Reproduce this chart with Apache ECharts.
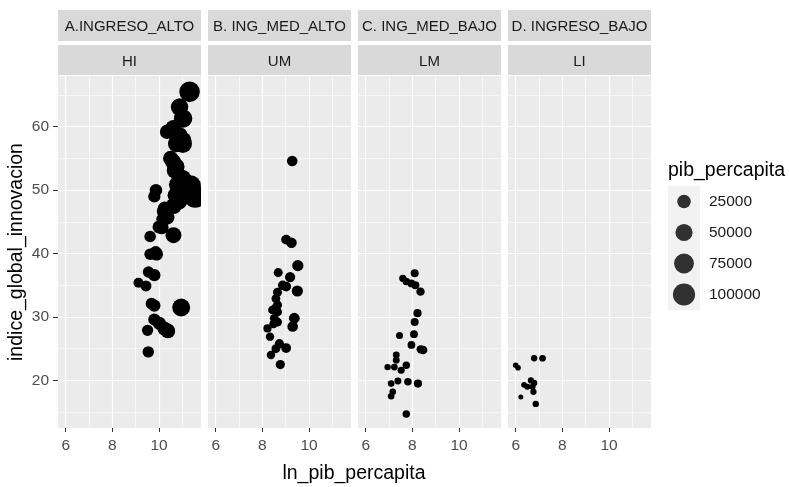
<!DOCTYPE html>
<html><head><meta charset="utf-8">
<script src="https://cdn.jsdelivr.net/npm/echarts@6/dist/echarts.min.js"></script>
<style>html,body{margin:0;padding:0;background:#fff}#c{width:789px;height:487px}</style>
</head><body><div id="c"></div>
<script>
// ---- data ----
const groupLabels = ['A.INGRESO_ALTO', 'B. ING_MED_ALTO', 'C. ING_MED_BAJO', 'D. INGRESO_BAJO'];
const incomeCodes = ['HI', 'UM', 'LM', 'LI'];
const xMajorTicks = [6, 8, 10];
const xMinorTicks = [7, 9, 11];
const yMajorTicks = [20, 30, 40, 50, 60];
const yMinorTicks = [15, 25, 35, 45, 55, 65];
const sizeBreaks = [25000, 50000, 75000, 100000];

const hiLnPib = [11.31,10.88,11.03,10.62,10.35,10.86,10.80,11.00,11.02,10.74,10.50,10.60,10.74,10.70,10.68,10.99,10.79,11.35,11.12,9.87,9.80,10.72,11.55,10.85,10.63,10.25,10.20,10.35,10.18,10.00,10.12,10.62,9.62,9.86,9.78,9.90,9.62,9.55,9.80,9.12,9.44,9.68,9.80,10.95,9.80,10.02,10.23,10.38,9.51,9.54];
const hiIndex = [65.5,63.1,61.3,59.8,59.2,58.6,58.4,57.8,57.3,57.3,55.0,54.5,53.7,53.4,53.1,51.8,50.9,50.7,50.4,50.0,49.0,49.2,49.0,48.3,47.5,47.1,46.7,45.7,45.4,44.2,44.1,42.9,42.7,40.2,40.0,39.9,39.9,37.1,36.6,35.4,34.9,32.1,31.8,31.5,29.6,29.0,28.2,27.8,27.9,24.5];
const hiPib = [82000,53000,62000,41000,31000,52000,49000,60000,61000,46000,36000,40000,46000,44000,43000,59000,48500,85000,67000,19500,18000,45000,104000,51500,41000,28000,27000,31000,26500,22000,25000,41000,15000,19000,17700,20000,15000,14000,18000,9100,12600,16000,18000,57000,18000,22500,27700,32000,13500,14000];

const umLnPib = [9.28,9.02,9.25,9.52,8.68,9.19,8.87,9.02,9.50,8.65,8.58,8.65,8.43,8.65,8.51,9.37,9.30,8.65,8.22,8.33,8.73,9.02,8.58,8.37,8.77,8.55,8.48];
const umIndex = [54.6,42.2,41.7,38.1,37.0,36.3,35.0,34.8,34.1,33.9,32.9,31.9,31.1,30.8,29.8,29.8,28.5,29.2,28.2,26.9,25.8,25.1,25.0,24.0,22.5,31.4,28.9];
const umPib = [10700,8300,10400,13600,5900,9800,7100,8300,13400,5700,5300,5700,4600,5700,5000,11700,10900,5700,3700,4200,6200,8300,5300,4300,6400,5200,4800];

const lmLnPib = [8.10,7.59,7.74,7.96,8.13,8.35,8.22,8.10,7.45,8.07,7.96,8.36,8.46,7.31,6.94,7.23,7.74,7.31,7.52,7.09,7.38,7.81,8.24,7.16,7.09,7.74];
const lmIndex = [36.9,36.1,35.6,35.3,35.0,34.0,30.6,29.2,27.1,27.3,25.6,24.9,24.8,24.0,22.1,22.1,22.4,23.2,21.6,19.5,19.9,19.8,19.5,18.2,17.5,14.7];
const lmPib = [3300,2000,2300,2900,3400,4200,3700,3300,1700,3200,2900,4300,4700,1500,1030,1400,2300,1500,1850,1200,1600,2500,3800,1300,1200,2300];

const liLnPib = [6.00,6.10,6.79,7.15,6.65,6.79,6.36,6.50,6.72,6.76,6.22,6.86];
const liIndex = [22.4,22.0,23.5,23.5,20.0,19.6,19.3,19.0,19.0,18.2,17.4,16.3];
const liPib = [400,450,890,1270,770,890,580,670,830,860,300,950];

// ---- layout / style ----
const FONT = '"Liberation Sans", Arial, sans-serif';
const panels = [
  {x: hiLnPib, y: hiIndex, p: hiPib},
  {x: umLnPib, y: umIndex, p: umPib},
  {x: lmLnPib, y: lmIndex, p: lmPib},
  {x: liLnPib, y: liIndex, p: liPib}
];
const LEFTS = [58, 208, 358, 508], W = 143, TOP = 76, BOTTOM_PX = 428;
const XMIN = 5.67, XMAX = 11.8, YMIN = 12.5, YMAX = 68;
const SIZE_DOMAIN = [300, 116000];
function sizeOf(v) {
  const r = Math.max(0, (v - SIZE_DOMAIN[0]) / (SIZE_DOMAIN[1] - SIZE_DOMAIN[0]));
  return 5 + 18.5 * Math.sqrt(r);
}

const grids = [], xAxes = [], yAxes = [], series = [], graphics = [];
panels.forEach((pn, i) => {
  grids.push({left: LEFTS[i], width: W, top: TOP, bottom: 487 - BOTTOM_PX,
    show: true, backgroundColor: '#ebebeb', borderWidth: 0, containLabel: false});
  xAxes.push({type: 'value', gridIndex: i, min: XMIN, max: XMAX, position: 'bottom',
    axisLine: {show: false},
    axisTick: {show: true, length: 4, customValues: xMajorTicks, lineStyle: {color: '#333333', width: 1}},
    axisLabel: {show: true, customValues: xMajorTicks, color: '#4d4d4d', fontSize: 15.5, fontFamily: FONT, margin: 10},
    splitLine: {show: true, lineStyle: {color: '#ffffff', width: 1.2}}, z: 1});
  xAxes.push({type: 'value', gridIndex: i, min: XMIN, max: XMAX, position: 'bottom',
    axisLine: {show: false},
    axisTick: {show: false, customValues: xMinorTicks},
    axisLabel: {show: false, customValues: xMinorTicks},
    splitLine: {show: true, lineStyle: {color: '#ffffff', width: 0.6}}, z: 0});
  yAxes.push({type: 'value', gridIndex: i, min: YMIN, max: YMAX, position: 'left',
    axisLine: {show: false},
    axisTick: {show: i === 0, length: 5, customValues: yMajorTicks, lineStyle: {color: '#333333', width: 1}},
    axisLabel: {show: i === 0, customValues: yMajorTicks, color: '#4d4d4d', fontSize: 15.5, fontFamily: FONT, margin: 9},
    splitLine: {show: true, lineStyle: {color: '#ffffff', width: 1.2}}, z: 1});
  yAxes.push({type: 'value', gridIndex: i, min: YMIN, max: YMAX, position: 'left',
    axisLine: {show: false},
    axisTick: {show: false, customValues: yMinorTicks},
    axisLabel: {show: false, customValues: yMinorTicks},
    splitLine: {show: true, lineStyle: {color: '#ffffff', width: 0.6}}, z: 0});
  series.push({type: 'scatter', xAxisIndex: 2 * i, yAxisIndex: 2 * i,
    data: pn.x.map((v, j) => [v, pn.y[j], pn.p[j]]),
    symbol: 'circle', symbolSize: d => sizeOf(d[2]),
    itemStyle: {color: '#000000', opacity: 1}, clip: false, z: 3, animation: false});

  graphics.push({type: 'rect', shape: {x: LEFTS[i], y: 10, width: W, height: 31}, style: {fill: '#d9d9d9'}, z: 1});
  graphics.push({type: 'text', x: LEFTS[i] + W / 2, y: 27, style: {text: groupLabels[i], fill: '#1a1a1a',
    font: '15px ' + FONT, align: 'center', verticalAlign: 'middle'}, z: 2});
  graphics.push({type: 'rect', shape: {x: LEFTS[i], y: 45, width: W, height: 30}, style: {fill: '#d9d9d9'}, z: 1});
  graphics.push({type: 'text', x: LEFTS[i] + W / 2, y: 62, style: {text: incomeCodes[i], fill: '#1a1a1a',
    font: '15px ' + FONT, align: 'center', verticalAlign: 'middle'}, z: 2});
  if (i < 3) {
    graphics.push({type: 'rect', shape: {x: LEFTS[i] + W, y: TOP, width: LEFTS[i + 1] - LEFTS[i] - W, height: BOTTOM_PX - TOP},
      style: {fill: '#ffffff'}, z: 50});
  }
});

grids.push({left: 668, width: 32, top: 186, height: 124, show: true, backgroundColor: '#f2f2f2', borderWidth: 0});
xAxes.push({type: 'value', gridIndex: 4, min: 0, max: 1, show: false});
yAxes.push({type: 'category', gridIndex: 4, data: sizeBreaks.map(String), inverse: true, position: 'right',
  axisLine: {show: false}, axisTick: {show: false}, splitLine: {show: false},
  axisLabel: {color: '#1a1a1a', fontSize: 15.5, fontFamily: FONT, margin: 9}});
series.push({type: 'scatter', xAxisIndex: 8, yAxisIndex: 8,
  data: sizeBreaks.map(b => [0.5, String(b), b]), symbol: 'circle', symbolSize: d => sizeOf(d[2]),
  itemStyle: {color: '#000000'}, animation: false});

graphics.push({type: 'text', x: 668, y: 171, style: {text: 'pib_percapita', fill: '#000000',
  font: '19.5px ' + FONT, align: 'left', verticalAlign: 'middle'}});
graphics.push({type: 'text', x: 354, y: 474, style: {text: 'ln_pib_percapita', fill: '#000000',
  font: '19.5px ' + FONT, align: 'center', verticalAlign: 'middle'}});
graphics.push({type: 'text', x: 17, y: 252, rotation: Math.PI / 2, style: {text: 'indice_global_innovacion', fill: '#000000',
  font: '19.5px ' + FONT, align: 'center', verticalAlign: 'middle'}});

const chart = echarts.init(document.getElementById('c'), null, {renderer: 'canvas'});
chart.setOption({
  animation: false,
  backgroundColor: '#ffffff',
  grid: grids, xAxis: xAxes, yAxis: yAxes, series: series, graphic: graphics
});
</script></body></html>
